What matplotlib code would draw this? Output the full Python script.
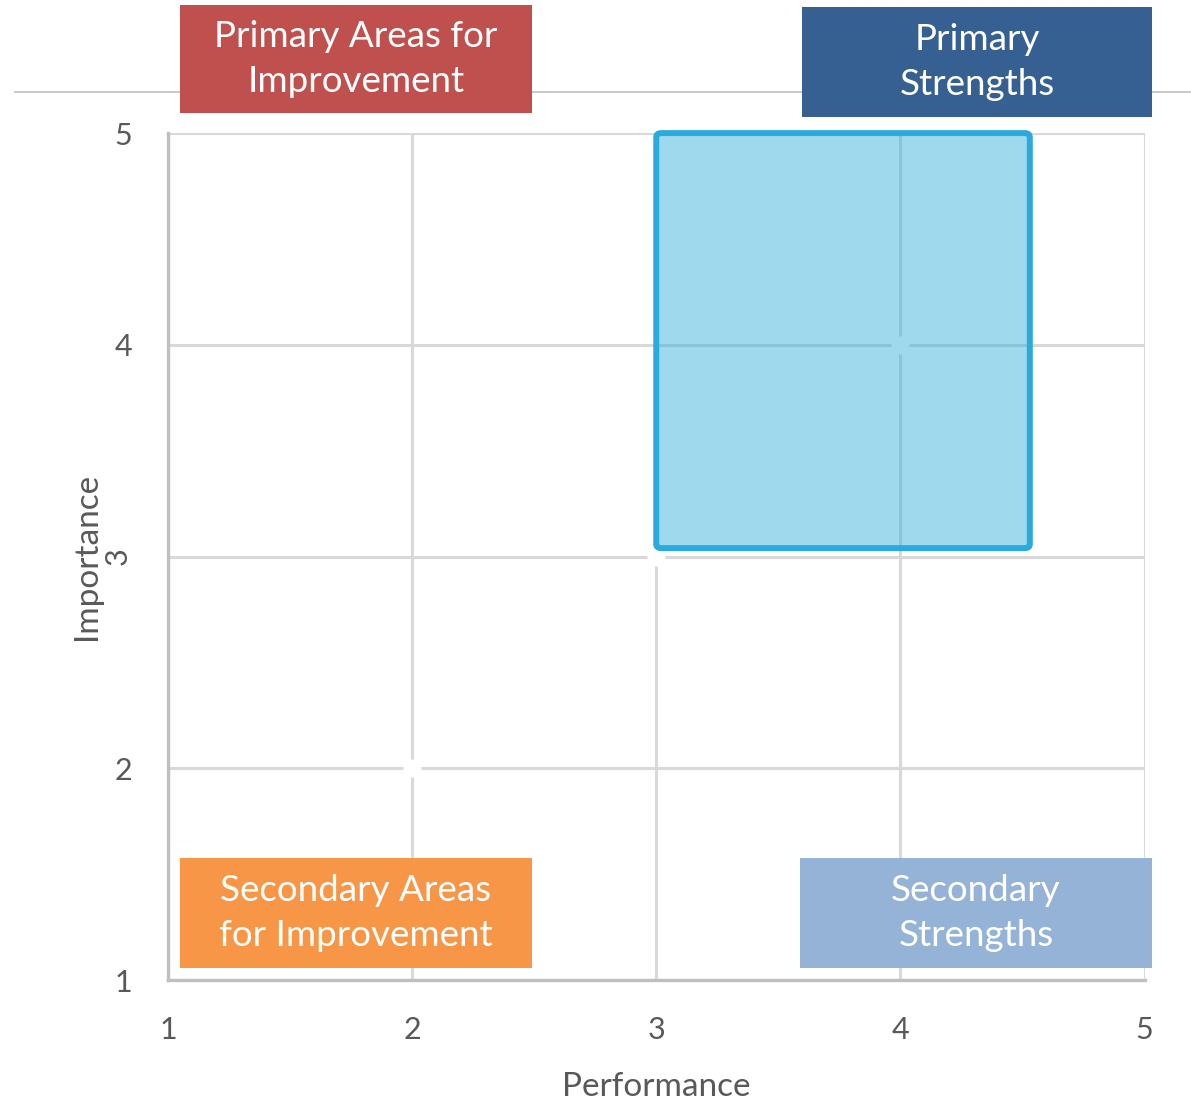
import matplotlib
matplotlib.use("Agg")
import matplotlib.pyplot as plt
from matplotlib.patches import Rectangle, FancyBboxPatch
from matplotlib.lines import Line2D

# data
ticks = [1, 2, 3, 4, 5]
point_x = [2, 3, 4]
point_y = [2, 3, 4]
range_perf = [3.0, 4.53]
range_imp = [3.04, 5.0]
quad_labels = ["Primary Areas for\nImprovement", "Primary\nStrengths",
               "Secondary Areas\nfor Improvement", "Secondary\nStrengths"]
quad_colors = ["#C0504D", "#376092", "#F79646", "#95B3D7"]

plt.rcParams['font.family'] = ['Lato', 'DejaVu Sans']

fig = plt.figure(figsize=(11.91, 11.0), dpi=100)
ax = fig.add_axes([0.141, 0.109, 0.820, 0.770])
ax.set_xlim(1, 5)
ax.set_ylim(1, 5)
ax.set_xticks(ticks)
ax.set_yticks(ticks)
ax.grid(True, color="#D9D9D9", linewidth=2.2, zorder=0)
ax.set_axisbelow(True)
for s in ["top", "right"]:
    ax.spines[s].set_visible(False)
for s in ["left", "bottom"]:
    ax.spines[s].set_color("#BFBFBF")
    ax.spines[s].set_linewidth(2.4)
ax.tick_params(axis="x", length=0, labelsize=22, labelcolor="#595959", pad=26)
ax.tick_params(axis="y", length=0, labelsize=22, labelcolor="#595959", pad=26)
ax.set_xlabel("Performance", fontsize=24, color="#595959", labelpad=20)
ax.set_ylabel("Importance", fontsize=24, color="#595959", labelpad=1)
for lab in ax.get_yticklabels():
    if lab.get_text() == "3":
        lab.set_rotation(90)
        lab.set_va("center")

# white points on the grid
ax.plot(point_x, point_y, "o", color="white", markersize=12, zorder=2, clip_on=False)

# highlighted region
rect = FancyBboxPatch((range_perf[0], range_imp[0]), range_perf[1] - range_perf[0],
                      range_imp[1] - range_imp[0],
                      boxstyle="round,pad=0,rounding_size=0.02",
                      facecolor=(0.17, 0.67, 0.86, 0.45), edgecolor="#2AABDB",
                      linewidth=4.3, zorder=3, clip_on=False)
ax.add_patch(rect)

# figure line behind the top boxes
fig.add_artist(Line2D([15 / 1191, 1.0], [1 - 92 / 1100] * 2, color="#BFBFBF",
                      linewidth=1.2, zorder=0))

boxes = [(180, 5, 352, 108), (802, 7, 350, 110), (180, 858, 352, 110), (800, 858, 352, 110)]
for (x, y, w, h), text, col in zip(boxes, quad_labels, quad_colors):
    fig.add_artist(Rectangle((x / 1191, 1 - (y + h) / 1100), w / 1191, h / 1100,
                             transform=fig.transFigure, facecolor=col,
                             edgecolor="none", zorder=5))
    fig.text((x + w / 2) / 1191, 1 - (y + h / 2) / 1100, text, color="white",
             fontsize=26.5, ha="center", va="center", linespacing=1.45, zorder=6)

fig.savefig("out.png", dpi=100)
